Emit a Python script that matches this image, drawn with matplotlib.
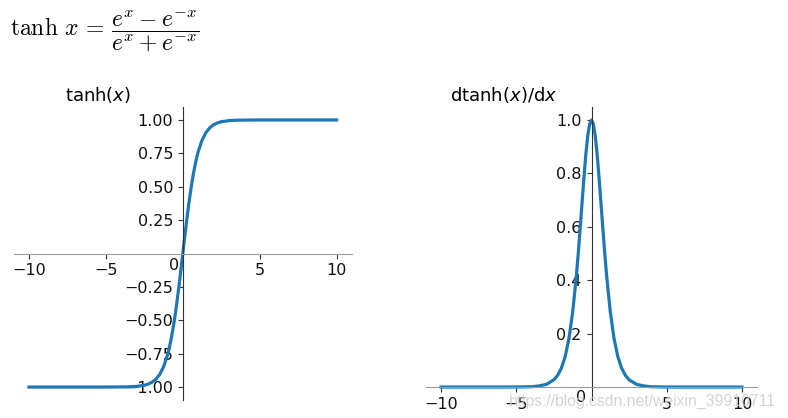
import matplotlib
matplotlib.use("Agg")
import matplotlib.pyplot as plt

plt.rcParams['mathtext.fontset'] = 'dejavusans'

# Values
x_vals = [-10.0, -8.0, -6.0, -5.0, -4.0, -3.5, -3.0, -2.5, -2.25, -2.0, -1.75, -1.5, -1.25,
          -1.0, -0.875, -0.75, -0.625, -0.5, -0.375, -0.25, -0.125,
          0.0, 0.125, 0.25, 0.375, 0.5, 0.625, 0.75, 0.875, 1.0,
          1.25, 1.5, 1.75, 2.0, 2.25, 2.5, 3.0, 3.5, 4.0, 5.0, 6.0, 8.0, 10.0]
tanh_vals = [-1.0, -1.0, -1.0, -1.0, -0.999, -0.998, -0.995, -0.987, -0.978, -0.964, -0.941, -0.905, -0.848,
             -0.762, -0.704, -0.635, -0.555, -0.462, -0.358, -0.245, -0.124,
             0.0, 0.124, 0.245, 0.358, 0.462, 0.555, 0.635, 0.704, 0.762,
             0.848, 0.905, 0.941, 0.964, 0.978, 0.987, 0.995, 0.998, 0.999, 1.0, 1.0, 1.0, 1.0]
dtanh_vals = [0.0, 0.0, 0.0, 0.0002, 0.001, 0.004, 0.010, 0.027, 0.044, 0.071, 0.114, 0.181, 0.281,
              0.420, 0.504, 0.597, 0.692, 0.786, 0.872, 0.940, 0.984,
              1.0, 0.984, 0.940, 0.872, 0.786, 0.692, 0.597, 0.504, 0.420,
              0.281, 0.181, 0.114, 0.071, 0.044, 0.027, 0.010, 0.004, 0.001, 0.0002, 0.0, 0.0, 0.0]

x_ticks = [-10, -5, 5, 10]
x_ticklabels = ['\u221210', '\u22125', '5', '10']
left_yticks = [-1.0, -0.75, -0.5, -0.25, 0.25, 0.5, 0.75, 1.0]
left_yticklabels = ['\u22121.00', '\u22120.75', '\u22120.50', '\u22120.25', '0.25', '0.50', '0.75', '1.00']
right_yticks = [0.2, 0.4, 0.6, 0.8, 1.0]
right_yticklabels = ['0.2', '0.4', '0.6', '0.8', '1.0']

W, H = 788, 418
fig = plt.figure(figsize=(W / 100, H / 100), dpi=100)

def frac_box(l, t, r, b):
    return [l / W, 1 - b / H, (r - l) / W, (b - t) / H]

ax1 = fig.add_axes(frac_box(13.6, 106.6, 352, 400.4))
ax2 = fig.add_axes(frac_box(426, 106.6, 757, 400.4))

color = '#1f77b4'
ax1.plot(x_vals, tanh_vals, color=color, lw=2.3)
ax2.plot(x_vals, dtanh_vals, color=color, lw=2.3)

TS = 11.5
for ax, yt, ytl in [(ax1, left_yticks, left_yticklabels), (ax2, right_yticks, right_yticklabels)]:
    ax.spines['right'].set_visible(False)
    ax.spines['top'].set_visible(False)
    ax.spines['left'].set_position(('data', 0))
    ax.spines['bottom'].set_position(('data', 0))
    ax.spines['left'].set_linewidth(0.8)
    ax.spines['bottom'].set_linewidth(0.8)
    ax.spines['left'].set_color('#333333')
    ax.spines['bottom'].set_color('#999999')
    ax.set_xticks(x_ticks)
    ax.set_xticklabels(x_ticklabels)
    ax.set_yticks(yt)
    ax.set_yticklabels(ytl)
    ax.tick_params(labelsize=TS, length=3.5, width=0.8, colors='#333333', labelcolor='#111111')
    ax.patch.set_alpha(0)

ax1.set_xlim(-11, 11)
ax1.set_ylim(-1.1, 1.1)
ax2.set_xlim(-11, 11)
ax2.set_ylim(-0.05, 1.05)

ax1.text(-0.55, -0.03, '0', fontsize=TS, ha='center', va='top', color='#111111')
ax2.text(-0.7, -0.01, '0', fontsize=TS, ha='center', va='top', color='#111111')

fig.text(65 / W, 1 - 101 / H, r'tanh($x$)', fontsize=13, ha='left', va='baseline')
fig.text(450 / W, 1 - 101 / H, r'dtanh($x$)/d$x$', fontsize=13, ha='left', va='baseline')

fig.text(10 / W, 1 - 31 / H,
         r'$\tanh\,x\,=\,\dfrac{e^x-e^{-x}}{e^x+e^{-x}}$',
         fontsize=17, ha='left', va='center', math_fontfamily='cm')

fig.text(509 / W, 1 - 401 / H, 'https://blog.csdn.net/weixin_39910711',
         fontsize=11.3, family='Liberation Sans', color='#cccccc', alpha=0.85,
         ha='left', va='center')

fig.savefig('out.png', dpi=100)
